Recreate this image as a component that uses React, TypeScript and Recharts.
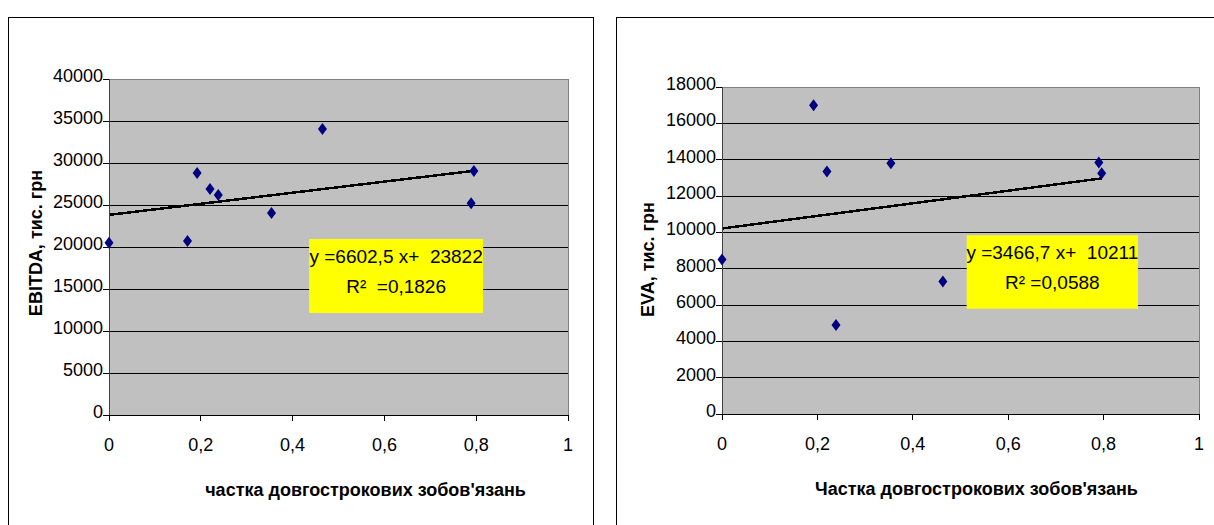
import React from "react";
import {
  CartesianGrid,
  ReferenceArea,
  ReferenceLine,
  Scatter,
  ScatterChart,
  XAxis,
  YAxis,
} from "recharts";

const FONT = '"Liberation Sans", Arial, sans-serif';

// частка довгострокових зобов'язань
const shareLeft = [0, 0.171, 0.192, 0.22, 0.238, 0.354, 0.465, 0.789, 0.795];
const ebitda = [20500, 20700, 28800, 26900, 26200, 24050, 34050, 25200, 29050];
const shareRight = [0, 0.192, 0.22, 0.239, 0.354, 0.463, 0.79, 0.796];
const eva = [8500, 17000, 13350, 4900, 13800, 7300, 13850, 13250];

const xTicks = [0, 0.2, 0.4, 0.6, 0.8, 1];
const ebitdaTicks = [0, 5000, 10000, 15000, 20000, 25000, 30000, 35000, 40000];
const evaTicks = [0, 2000, 4000, 6000, 8000, 10000, 12000, 14000, 16000, 18000];

// trend coefficients: y = slope * x + intercept
const ebitdaTrend = { slope: 6602.5, intercept: 23822 };
const evaTrend = { slope: 3466.7, intercept: 10211 };

const ebitdaBoxText = ["y =6602,5 x+  23822", "R²  =0,1826"];
const evaBoxText = ["y =3466,7 x+  10211", "R² =0,0588"];

function Diamond(props: any) {
  const { cx, cy } = props;
  if (cx == null || cy == null) return null;
  return (
    <path
      d={`M${cx},${cy - 6}L${cx + 4.5},${cy}L${cx},${cy + 6}L${cx - 4.5},${cy}Z`}
      fill="#000080"
    />
  );
}

function XTick(props: any) {
  const { x, y, payload } = props;
  return (
    <text x={x} y={y} textAnchor="middle" dominantBaseline="central" fontSize={18} fontFamily={FONT} fill="#000">
      {String(payload.value).replace(".", ",")}
    </text>
  );
}

function YTick(props: any) {
  const { x, y, payload } = props;
  return (
    <text x={x} y={y - 3} textAnchor="end" dominantBaseline="central" fontSize={18} fontFamily={FONT} fill="#000">
      {payload.value}
    </text>
  );
}

type PanelProps = {
  xs: number[];
  ys: number[];
  yTicks: number[];
  trend: { slope: number; intercept: number };
  box: { x1: number; x2: number; y1: number; y2: number };
  boxText: string[];
  yTitle: string;
  xTitle: string;
  width: number;
  margin: { top: number; right: number; bottom: number; left: number };
  xTitleDx: number;
  yTitleDx: number;
  yTitleDy: number;
};

function Panel(p: PanelProps) {
  const data = p.xs.map((x, i) => ({ x, y: p.ys[i] }));
  const xMax = Math.max(...p.xs);
  const yTop = p.yTicks[p.yTicks.length - 1];
  const trendSegment = [
    { x: 0, y: p.trend.intercept },
    { x: xMax, y: p.trend.intercept + p.trend.slope * xMax },
  ];

  return (
    <ScatterChart width={p.width} height={518} margin={p.margin}>
      <CartesianGrid vertical={false} stroke="#000" fill="#C0C0C0" fillOpacity={1} />
      <XAxis
        type="number"
        dataKey="x"
        domain={[0, 1]}
        ticks={xTicks}
        interval={0}
        height={40}
        tickSize={6}
        tickMargin={24}
        axisLine={{ stroke: "#000" }}
        tickLine={{ stroke: "#000" }}
        tick={<XTick />}
        label={(lp: any) => {
          const vb = lp.viewBox || { x: 0, y: 0, width: 0 };
          return (
            <text
              x={vb.x + vb.width / 2 + p.xTitleDx}
              y={vb.y + 75}
              textAnchor="middle"
              dominantBaseline="central"
              fontSize={18}
              fontWeight="bold"
              fontFamily={FONT}
              fill="#000"
            >
              {p.xTitle}
            </text>
          );
        }}
      />
      <YAxis
        type="number"
        dataKey="y"
        domain={[0, yTop]}
        ticks={p.yTicks}
        interval={0}
        width={60}
        tickSize={6}
        tickMargin={0}
        axisLine={{ stroke: "#404040" }}
        tickLine={{ stroke: "#000" }}
        tick={<YTick />}
        label={(lp: any) => {
          const vb = lp.viewBox || { x: 0, y: 0, height: 0 };
          const cx = vb.x + p.yTitleDx;
          const cy = vb.y + vb.height / 2 + p.yTitleDy;
          return (
            <text
              x={cx}
              y={cy}
              transform={`rotate(-90 ${cx} ${cy})`}
              textAnchor="middle"
              dominantBaseline="central"
              fontSize={18}
              fontWeight="bold"
              fontFamily={FONT}
              fill="#000"
            >
              {p.yTitle}
            </text>
          );
        }}
      />
      <ReferenceLine y={yTop} stroke="#808080" />
      <ReferenceLine x={1} stroke="#808080" />
      <ReferenceArea
        x1={p.box.x1}
        x2={p.box.x2}
        y1={p.box.y1}
        y2={p.box.y2}
        fill="#FFFF00"
        fillOpacity={1}
        stroke="none"
        label={(lp: any) => {
          const vb = lp.viewBox || { x: 0, y: 0, width: 0 };
          const cx = vb.x + vb.width / 2;
          return (
            <g fontSize={19} fontFamily={FONT} fill="#000">
              <text x={cx} y={vb.y + 17} textAnchor="middle" dominantBaseline="central" style={{ whiteSpace: "pre" }}>
                {p.boxText[0]}
              </text>
              <text x={cx} y={vb.y + 47} textAnchor="middle" dominantBaseline="central" style={{ whiteSpace: "pre" }}>
                {p.boxText[1]}
              </text>
            </g>
          );
        }}
      />
      <ReferenceLine segment={trendSegment} stroke="#000" strokeWidth={2.5} />
      <Scatter data={data} shape={<Diamond />} isAnimationActive={false} />
    </ScatterChart>
  );
}

export default function App() {
  return (
    <div
      style={{
        position: "fixed",
        left: 0,
        top: 0,
        width: 1214,
        height: 525,
        overflow: "hidden",
        background: "#fff",
      }}
    >
      <style>{`.recharts-cartesian-grid line, .recharts-reference-line line, .recharts-cartesian-axis-line, .recharts-cartesian-axis-tick-line { shape-rendering: crispEdges; }`}</style>
      <div
        style={{
          position: "absolute",
          left: 8,
          top: 17,
          width: 586,
          height: 540,
          border: "1px solid #000",
          boxSizing: "border-box",
        }}
      >
        <Panel
          xs={shareLeft}
          ys={ebitda}
          yTicks={ebitdaTicks}
          trend={ebitdaTrend}
          box={{ x1: 0.436, x2: 0.815, y1: 12140, y2: 20950 }}
          boxText={ebitdaBoxText}
          yTitle="EBITDA, тис. грн"
          xTitle="частка довгострокових зобов'язань"
          width={584}
          margin={{ top: 61, right: 25, bottom: 81, left: 40 }}
          xTitleDx={27}
          yTitleDx={-13}
          yTitleDy={-4}
        />
      </div>
      <div
        style={{
          position: "absolute",
          left: 616,
          top: 17,
          width: 620,
          height: 540,
          border: "1px solid #000",
          boxSizing: "border-box",
        }}
      >
        <Panel
          xs={shareRight}
          ys={eva}
          yTicks={evaTicks}
          trend={evaTrend}
          box={{ x1: 0.513, x2: 0.872, y1: 5790, y2: 9843 }}
          boxText={evaBoxText}
          yTitle="EVA, тис. грн"
          xTitle="Частка довгострокових зобов'язань"
          width={618}
          margin={{ top: 69, right: 36, bottom: 82, left: 45 }}
          xTitleDx={16}
          yTitleDx={-14}
          yTitleDy={9}
        />
      </div>
    </div>
  );
}
